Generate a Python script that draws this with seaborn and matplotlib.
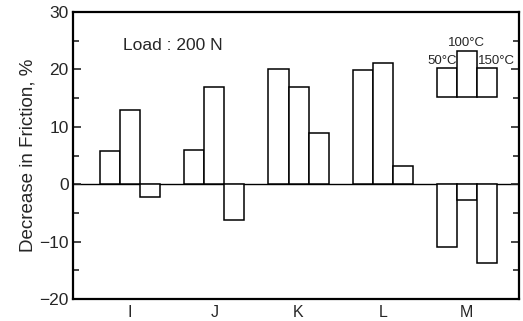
import matplotlib
matplotlib.use("Agg")
import matplotlib.pyplot as plt
from matplotlib.ticker import MultipleLocator, FuncFormatter
import numpy as np
import pandas as pd
import seaborn as sns

# Lubricant samples and the measured decrease in friction (%) at each temperature
samples = ["I", "J", "K", "L", "M"]
temps = ["50°C", "100°C", "150°C"]
dec_50 = [5.8, 6.0, 20.1, 19.9, -10.9]
dec_100 = [12.9, 17.0, 17.0, 21.2, -2.8]
dec_150 = [-2.2, -6.2, 8.9, 3.2, -13.8]

# Key boxes (bottom and heights) for the temperature legend
key_bottom = 15.2
key_heights = [5.0, 8.0, 5.0]

df = pd.DataFrame({
    "sample": samples * 3,
    "temp": [temps[0]] * 5 + [temps[1]] * 5 + [temps[2]] * 5,
    "value": dec_50 + dec_100 + dec_150,
})

sns.set_theme(style="ticks")
plt.rcParams["font.family"] = ["Liberation Sans", "DejaVu Sans"]

fig = plt.figure(figsize=(5.23, 3.21), dpi=100)
ax = fig.add_axes([0.1396, 0.0685, 0.8528, 0.8941])

width = 0.714
sns.barplot(data=df, x="sample", y="value", hue="temp", order=samples,
            hue_order=temps, palette=["white"] * 3, edgecolor="black",
            linewidth=1.1, width=width, gap=0, saturation=1, legend=False,
            errorbar=None, ax=ax)

ax.axhline(0, color="black", linewidth=1.0, zorder=0.5)

# Temperature key drawn as small boxes above sample M
bw = width / 3
kx = np.array([-bw, 0, bw]) + 4
ax.bar(kx, key_heights, width=bw, bottom=key_bottom, color="white",
       edgecolor="black", linewidth=1.1)
ax.text(kx[1], key_bottom + key_heights[1] + 0.4, temps[1], ha="center",
        va="bottom", fontsize=9.5)
ax.text(kx[0] + bw / 2, key_bottom + key_heights[0] + 0.3, temps[0],
        ha="right", va="bottom", fontsize=9.5)
ax.text(kx[2] - bw / 2 + 0.01, key_bottom + key_heights[2] + 0.3, temps[2],
        ha="left", va="bottom", fontsize=9.5, clip_on=False)

ax.text(0.113, 0.885, "Load : 200 N", transform=ax.transAxes, fontsize=12.5,
        ha="left", va="center")

ax.set_xlim(-0.68, 4.62)
ax.set_ylim(-20, 30)
ax.yaxis.set_major_locator(MultipleLocator(10))
ax.yaxis.set_minor_locator(MultipleLocator(5))
ax.yaxis.set_major_formatter(
    FuncFormatter(lambda v, p: f"{v:.0f}".replace("-", "\u2212")))
ax.tick_params(axis="y", which="both", direction="in", left=True, right=True,
               labelsize=12.5, width=1.2)
ax.tick_params(axis="y", which="major", length=6, pad=3)
ax.tick_params(axis="y", which="minor", length=4)
ax.tick_params(axis="x", length=0, labelsize=11.5, pad=4)

ax.set_xlabel("")
ax.set_ylabel("Decrease in Friction, %", fontsize=13.5, labelpad=2)
for s in ax.spines.values():
    s.set_visible(True)
    s.set_linewidth(1.6)
    s.set_color("black")

fig.savefig("out.png", dpi=100)
